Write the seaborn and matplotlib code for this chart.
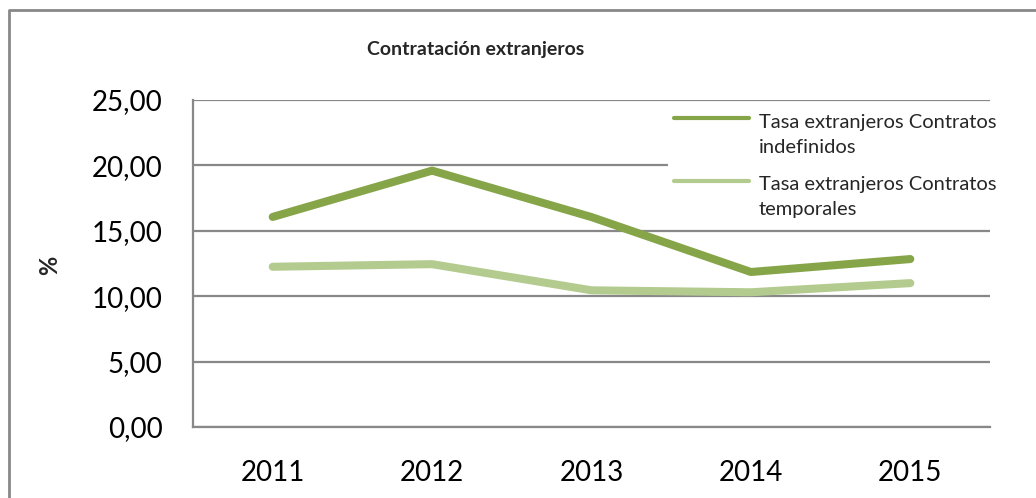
import matplotlib
matplotlib.use("Agg")
import matplotlib.pyplot as plt
import seaborn as sns
import pandas as pd
import numpy as np
from matplotlib.ticker import FuncFormatter, MultipleLocator
from matplotlib.lines import Line2D
from matplotlib.legend_handler import HandlerLine2D

years = ["2011", "2012", "2013", "2014", "2015"]
indefinidos = [16.06, 19.60, 16.05, 11.85, 12.84]
temporales = [12.25, 12.45, 10.45, 10.30, 11.00]
series_names = ["Tasa extranjeros Contratos\nindefinidos",
                "Tasa extranjeros Contratos\ntemporales"]
colors = ["#85A548", "#B4CB8F"]
title = "Contratación extranjeros"
ylabel = "%"

df = pd.DataFrame({
    "year": years * 2,
    "value": indefinidos + temporales,
    "serie": [series_names[0]] * len(years) + [series_names[1]] * len(years),
})

sns.set_theme(style="white")
plt.rcParams["font.family"] = ["Lato", "DejaVu Sans"]

fig = plt.figure(figsize=(10.36, 4.98), dpi=100)
ax = fig.add_axes([193 / 1036, 1 - 427 / 498, (990 - 193) / 1036, (427 - 100) / 498])

sns.lineplot(data=df, x="year", y="value", hue="serie", palette=colors,
             linewidth=5.8, ax=ax, legend=False, sort=False)
for ln in ax.lines:
    ln.set_solid_capstyle("round")

ax.set_xlim(-0.5, len(years) - 0.5)
ax.set_ylim(0, 25)
ax.yaxis.set_major_locator(MultipleLocator(5))
ax.yaxis.set_major_formatter(FuncFormatter(lambda v, p: f"{v:.2f}".replace(".", ",")))
ax.grid(axis="y", color="#888888", linewidth=1.6)
ax.set_axisbelow(True)
for s in ["top", "right"]:
    ax.spines[s].set_visible(False)
for s in ["left", "bottom"]:
    ax.spines[s].set_color("#888888")
    ax.spines[s].set_linewidth(1.6)
ax.tick_params(axis="both", length=0, labelsize=20, colors="black")
ax.tick_params(axis="x", pad=24)
ax.tick_params(axis="y", pad=22)
ax.set_xlabel("")
ax.set_ylabel("")


class TopLineHandler(HandlerLine2D):
    def create_artists(self, legend, orig_handle, xdescent, ydescent,
                       width, height, fontsize, trans):
        artists = super().create_artists(legend, orig_handle, xdescent, ydescent,
                                         width, height, fontsize, trans)
        for a in artists:
            a.set_ydata(np.asarray(a.get_ydata(), dtype=float) + 12.0)
        return artists


handles = [Line2D([0], [0], color=c, linewidth=3) for c in colors]
leg = fig.legend(handles, series_names, loc="upper left",
                 bbox_to_anchor=(668 / 1036, 1 - 107.5 / 498),
                 fontsize=14.5, frameon=True, facecolor="white", edgecolor="none",
                 framealpha=1, handlelength=3.7, handletextpad=0.5,
                 labelspacing=1.0, borderpad=0.3, borderaxespad=0,
                 handler_map={Line2D: TopLineHandler()})
leg.get_frame().set_linewidth(0)
for t in leg.get_texts():
    t.set_linespacing(1.6)

fig.text(476 / 1036, 1 - 50 / 498, title, ha="center", va="center",
         fontsize=14, fontweight="bold")
fig.text(50 / 1036, 1 - 265 / 498, ylabel, ha="center", va="center",
         rotation=90, fontsize=17, fontweight="bold")

# figure frame (left and top edges visible)
fig.add_artist(Line2D([9 / 1036, 9 / 1036, 1.0], [0.0, 1 - 10 / 498, 1 - 10 / 498],
                      transform=fig.transFigure, color="#888888", linewidth=2))

fig.savefig("out.png", dpi=100, facecolor="white")
